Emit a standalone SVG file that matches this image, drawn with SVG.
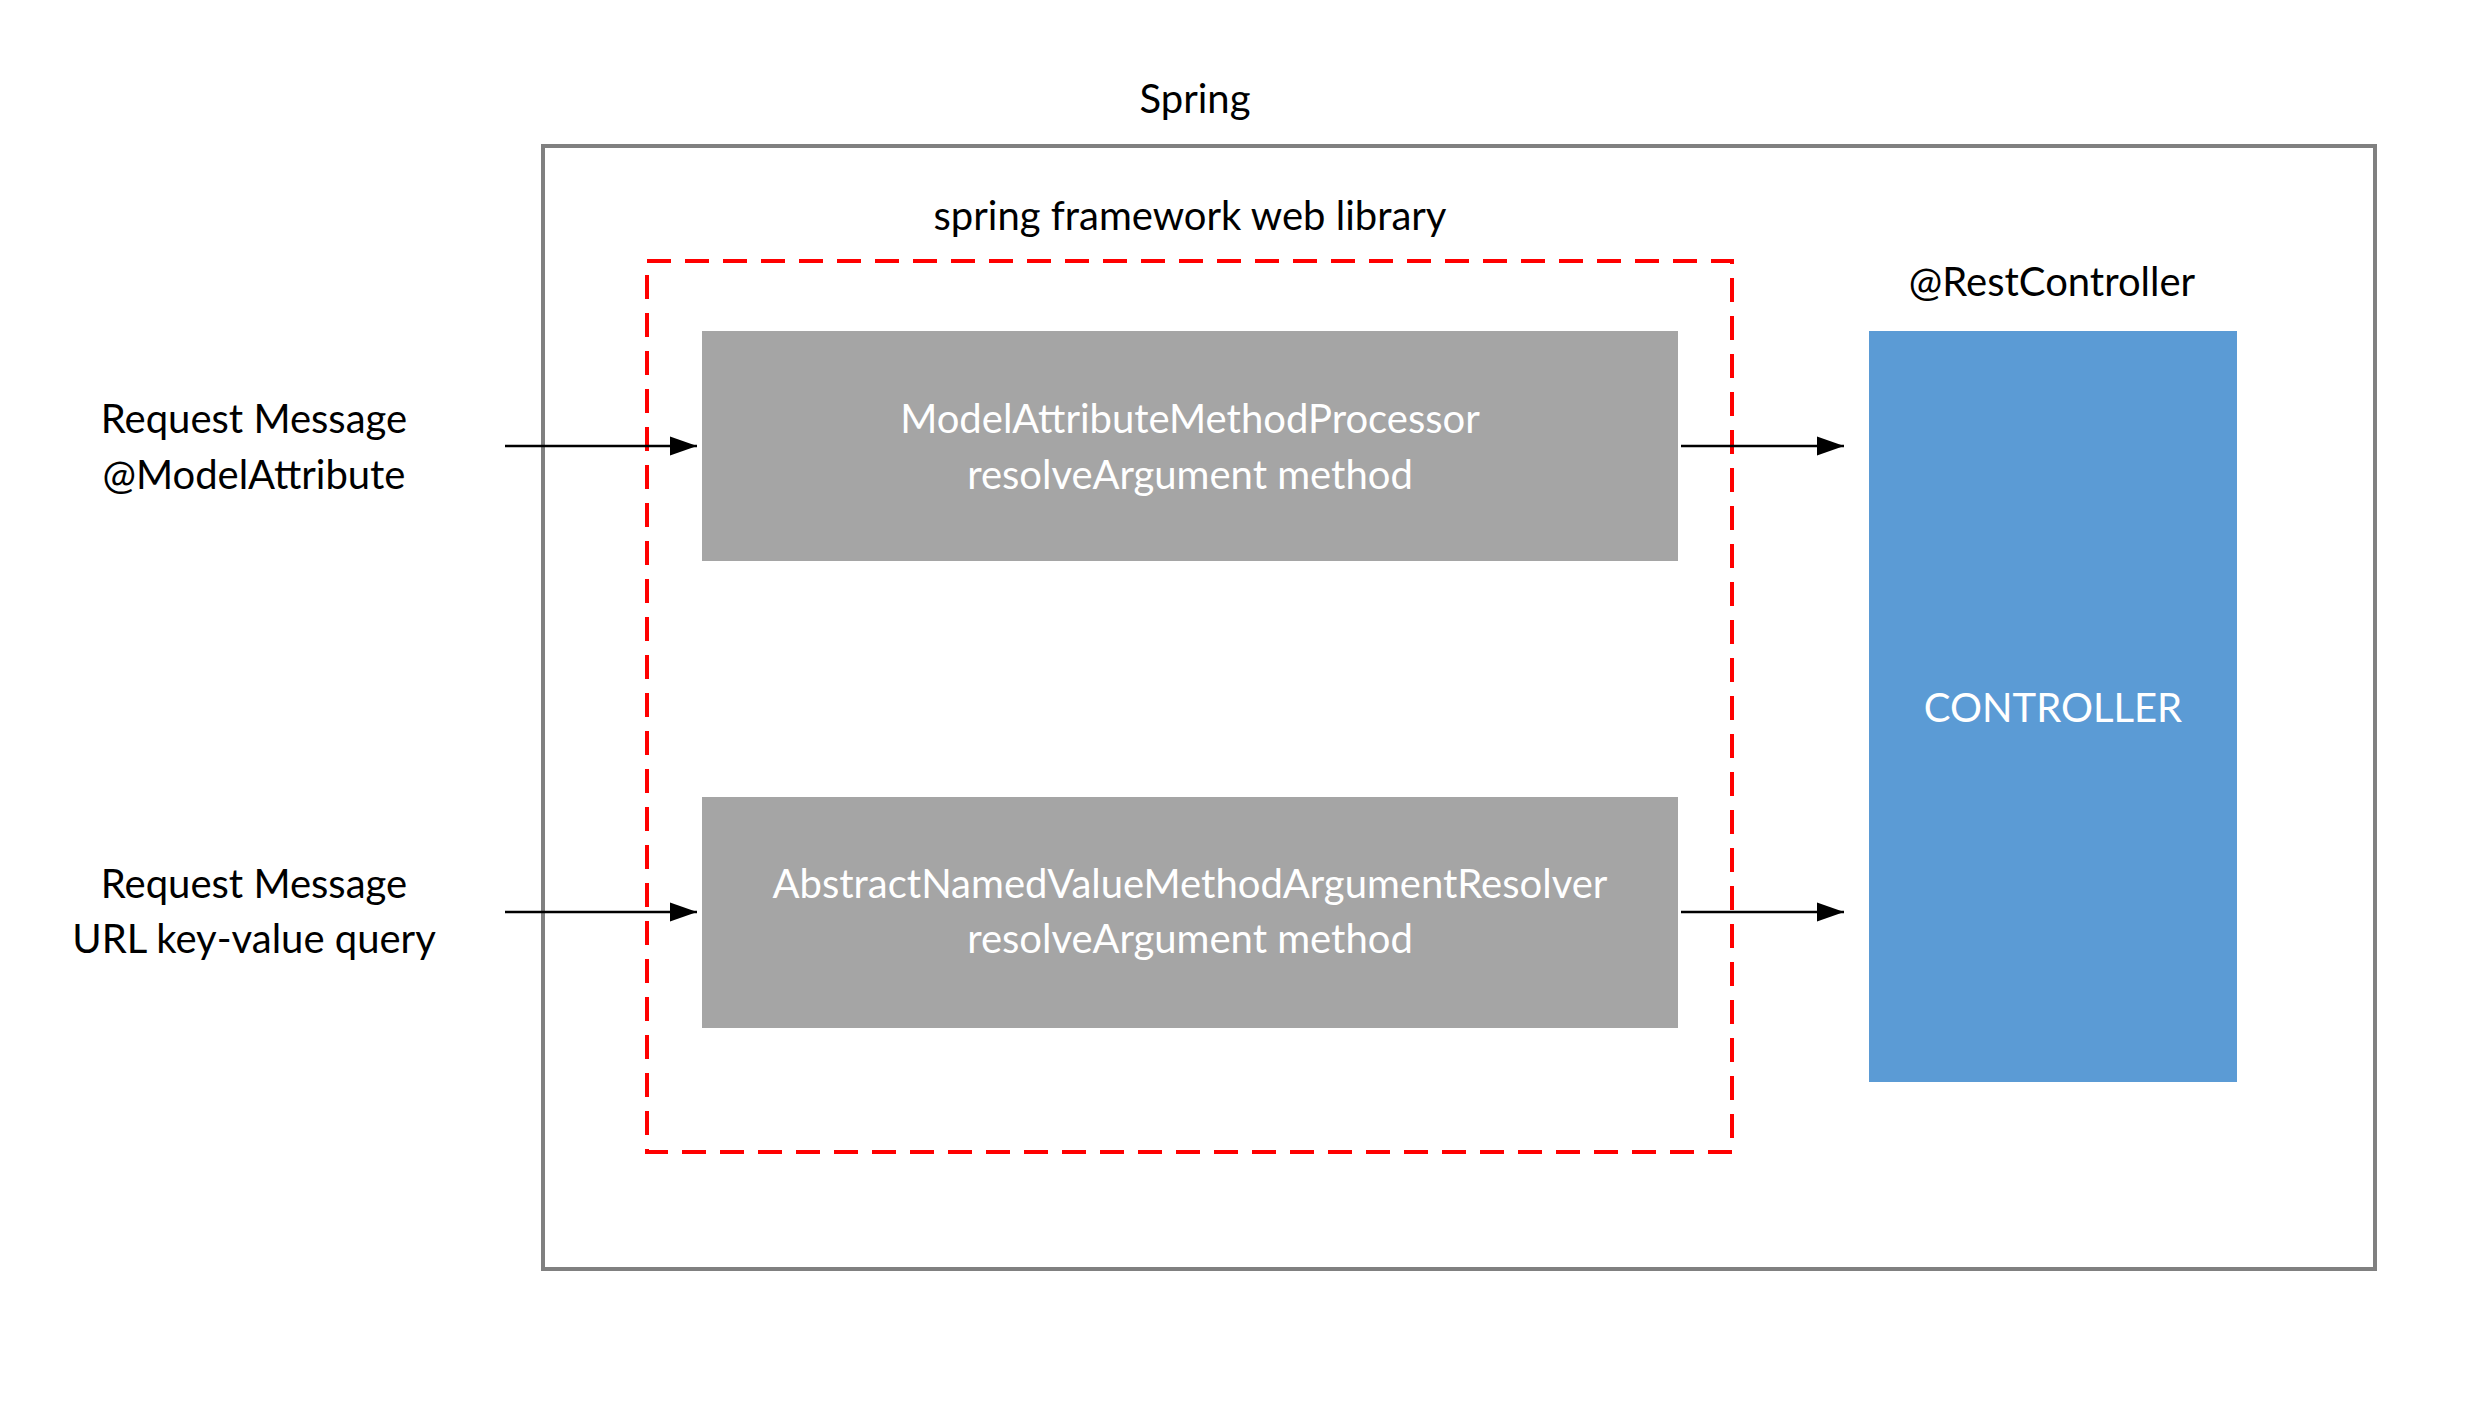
<svg xmlns="http://www.w3.org/2000/svg" width="2470" height="1407" viewBox="0 0 2470 1407">
<style>
text{font-family:Lato,"Open Sans",sans-serif;font-size:40px;text-anchor:middle;fill:#000}
.w{fill:#fff}
.box{fill:#A5A5A5}
.ln{stroke:#000;stroke-width:2.5;fill:none}
</style>
<defs><marker id="ah" markerWidth="10" markerHeight="10" refX="10" refY="5" orient="auto" markerUnits="userSpaceOnUse" viewBox="0 0 10 10"><path d="M0,0L10,5L0,10z" fill="#000"/></marker>
<marker id="a" viewBox="0 0 10 10" refX="10" refY="5" markerWidth="27" markerHeight="27" markerUnits="userSpaceOnUse" orient="auto"><path d="M0,1.5L10,5L0,8.5z" fill="#000"/></marker></defs>
<rect width="2470" height="1407" fill="#fff"/>
<g id="spring"><rect x="543" y="146" width="1832" height="1123" fill="none" stroke="#808080" stroke-width="4"/><text x="1195" y="113">Spring</text></g>
<g id="library"><rect x="647" y="261" width="1085" height="891" fill="none" stroke="#f00" stroke-width="4" stroke-dasharray="24,14"/><text x="1190" y="230">spring framework web library</text></g>
<g id="in1"><text x="254" y="433">Request Message</text><text x="254" y="489">@ModelAttribute</text></g>
<g id="in2"><text x="254" y="898">Request Message</text><text x="254" y="953">URL key-value query</text></g>
<g id="proc1"><rect class="box" x="702" y="331" width="976" height="230"/><text class="w" x="1190" y="433">ModelAttributeMethodProcessor</text><text class="w" x="1190" y="489">resolveArgument method</text></g>
<g id="proc2"><rect class="box" x="702" y="797" width="976" height="231"/><text class="w" x="1190" y="898">AbstractNamedValueMethodArgumentResolver</text><text class="w" x="1190" y="953">resolveArgument method</text></g>
<g id="controller"><rect x="1869" y="331" width="368" height="751" fill="#5B9BD5"/><text class="w" x="2053" y="722">CONTROLLER</text><text x="2052" y="296">@RestController</text></g>
<g id="connectors">
<line class="ln" x1="505" y1="446" x2="697" y2="446" marker-end="url(#a)"/>
<line class="ln" x1="505" y1="912" x2="697" y2="912" marker-end="url(#a)"/>
<line class="ln" x1="1681" y1="446" x2="1844" y2="446" marker-end="url(#a)"/>
<line class="ln" x1="1681" y1="912" x2="1844" y2="912" marker-end="url(#a)"/>
</g>
</svg>
